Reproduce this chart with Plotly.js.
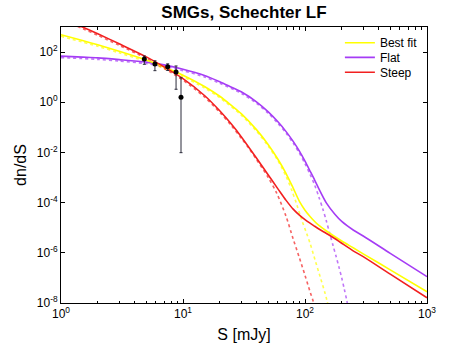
<!DOCTYPE html>
<html>
<head>
<meta charset="utf-8">
<script src="https://cdn.plot.ly/plotly-3.0.1.min.js"></script>
<style>
  html, body { margin: 0; padding: 0; background: #fff; }
  #chart { width: 471px; height: 344px; }
</style>
</head>
<body>
<div id="chart"></div>
<script>
/** SMGs, Schechter LF */

// flux grid [mJy] and log10(dn/dS)
var solidS = [1, 1.5, 2, 3, 5, 7, 10, 15, 20, 25, 30, 40, 50, 60, 70, 80, 90, 100, 110, 120, 130, 150, 175, 200, 250, 300, 500, 1000];
var bestLog  = [2.69, 2.46, 2.29, 2.03, 1.68, 1.41, 1.08, 0.63, 0.24, -0.13, -0.45, -1.09, -1.69, -2.27, -2.84, -3.42, -3.95, -4.30, -4.55, -4.75, -4.91, -5.13, -5.35, -5.53, -5.81, -6.04, -6.68, -7.55];
var flatLog  = [1.84, 1.80, 1.77, 1.70, 1.60, 1.49, 1.32, 1.07, 0.82, 0.60, 0.42, 0.02, -0.38, -0.78, -1.17, -1.56, -1.95, -2.35, -2.74, -3.10, -3.45, -4.02, -4.45, -4.75, -5.10, -5.33, -6.02, -6.95];
var steepLog = [3.36, 3.00, 2.73, 2.33, 1.81, 1.41, 0.94, 0.27, -0.34, -0.88, -1.37, -2.22, -2.90, -3.45, -3.91, -4.26, -4.50, -4.68, -4.82, -4.94, -5.05, -5.23, -5.43, -5.62, -5.93, -6.15, -6.85, -7.79];

// pure Schechter part (dotted)
var bestDotS   = [1, 2, 3, 5, 7, 10, 15, 20, 30, 40, 50, 60, 70, 78, 85, 94, 103, 110, 121, 133, 146, 151, 158];
var bestDotLog = [2.63, 2.23, 1.97, 1.62, 1.35, 1.02, 0.57, 0.18, -0.51, -1.15, -1.75, -2.33, -2.95, -3.52, -4.03, -4.69, -5.22, -5.62, -6.29, -6.95, -7.61, -7.88, -8.3];
var flatDotS   = [1, 2, 3, 5, 7, 10, 15, 20, 30, 40, 50, 60, 70, 80, 90, 100, 110, 120, 130, 140, 150, 160, 170, 180, 190, 200, 210, 220, 230];
var flatDotLog = [1.78, 1.71, 1.64, 1.54, 1.43, 1.26, 1.01, 0.76, 0.36, -0.04, -0.44, -0.84, -1.23, -1.63, -2.03, -2.45, -2.87, -3.30, -3.78, -4.25, -4.75, -5.25, -5.72, -6.15, -6.58, -7.00, -7.45, -7.90, -8.40];
var steepDotS   = [1, 1.5, 2, 3, 5, 7, 10, 15, 20, 25, 30, 35, 40, 50, 58.6, 70, 80, 90, 100, 110, 117, 125];
var steepDotLog = [3.30, 2.94, 2.67, 2.27, 1.75, 1.35, 0.88, 0.21, -0.40, -0.94, -1.43, -1.86, -2.28, -3.00, -3.62, -4.55, -5.45, -6.20, -6.90, -7.55, -7.95, -8.60];

// counts with asymmetric error bars
var obsS  = [4.82, 5.89, 7.49, 8.77, 9.63];
var obsY  = [53.1, 33.5, 25.9, 16.0, 1.58];
var obsHi = [70, 45, 34, 28, 9.5];
var obsLo = [32.6, 18.2, 18.5, 3.3, 0.0098];

var xTicks = [1, 10, 100, 1000];
var xTickText = ['10<sup>0</sup>', '10<sup>1</sup>', '10<sup>2</sup>', '10<sup>3</sup>'];
var yTicks = [1e-8, 1e-6, 1e-4, 1e-2, 1, 100];
var yTickText = ['10<sup>-8</sup>', '10<sup>-6</sup>', '10<sup>-4</sup>', '10<sup>-2</sup>', '10<sup>0</sup>', '10<sup>2</sup>'];

var colBest = '#ffff00', colFlat = '#a53cf5', colSteep = '#f22020';

function pow10(arr){ return arr.map(function(v){ return Math.pow(10, v); }); }

var minorX = [];
[1, 10, 100].forEach(function(d){ for (var k = 2; k <= 9; k++) minorX.push(k * d); });

function solid(name, y, color, leg){
  return { x: solidS, y: pow10(y), mode: 'lines', name: name, legend: leg,
           line: { color: color, width: 1.6, shape: 'spline', smoothing: 0.8 } };
}
function dotted(x, y, color){
  return { x: x, y: pow10(y), mode: 'lines', showlegend: false, hoverinfo: 'skip',
           opacity: 0.7, line: { color: color, width: 1.6, dash: 'dot', shape: 'spline', smoothing: 0.8 } };
}

var chartdata = [
  dotted(flatDotS, flatDotLog, colFlat),
  dotted(bestDotS, bestDotLog, colBest),
  dotted(steepDotS, steepDotLog, colSteep),
  solid('Flat', flatLog, colFlat, 'legend2'),
  solid('Best fit', bestLog, colBest, 'legend'),
  solid('Steep', steepLog, colSteep, 'legend3'),
  {
    x: obsS, y: obsY, mode: 'markers', showlegend: false,
    marker: { color: '#000', size: 5 },
    error_y: {
      type: 'data', symmetric: false,
      array: obsHi.map(function(v, i){ return v - obsY[i]; }),
      arrayminus: obsLo.map(function(v, i){ return obsY[i] - v; }),
      color: '#2a2a3a', thickness: 1, width: 1.5
    }
  }
];

var fontFam = 'Liberation Sans, Arial, Helvetica, sans-serif';
function leg(y){
  return { x: 0.762, y: y, xanchor: 'left', yanchor: 'middle', bgcolor: 'rgba(0,0,0,0)',
           borderwidth: 0, font: { family: fontFam, size: 12, color: '#000' } };
}

var layout = {
  width: 471, height: 344,
  margin: { l: 61, r: 44, t: 27, b: 41 },
  paper_bgcolor: '#fff', plot_bgcolor: '#fff',
  font: { family: fontFam, size: 12, color: '#000' },
  title: { text: '<b>SMGs, Schechter LF</b>', font: { family: fontFam, size: 17, color: '#000' },
           x: 0.518, xref: 'container', y: 0.965, yref: 'container', yanchor: 'middle' },
  showlegend: true,
  legend: leg(0.943),
  legend2: leg(0.890),
  legend3: leg(0.836),
  xaxis: {
    type: 'log', range: [0, 3], tickmode: 'array', tickvals: xTicks, ticktext: xTickText,
    ticks: 'inside', ticklen: 4, tickcolor: '#000', showline: true, linecolor: '#000', linewidth: 1,
    mirror: 'ticks', showgrid: false, zeroline: false,
    minor: { tickmode: 'array', tickvals: minorX, ticks: 'inside', ticklen: 2.5, tickcolor: '#000', showgrid: false },
    tickfont: { size: 12 },
    title: { text: 'S [mJy]', font: { size: 16 }, standoff: 8 }
  },
  yaxis: {
    type: 'log', range: [-8, 3], tickmode: 'array', tickvals: yTicks, ticktext: yTickText,
    ticks: 'inside', ticklen: 4, tickcolor: '#000', showline: true, linecolor: '#000', linewidth: 1,
    mirror: 'ticks', showgrid: false, zeroline: false,
    tickfont: { size: 12 },
    title: { text: 'dn/dS', font: { size: 16 }, standoff: 6 }
  }
};

var config = { displaylogo: false, displayModeBar: false, staticPlot: true };

Plotly.newPlot('chart', chartdata, layout, config);
</script>
</body>
</html>
